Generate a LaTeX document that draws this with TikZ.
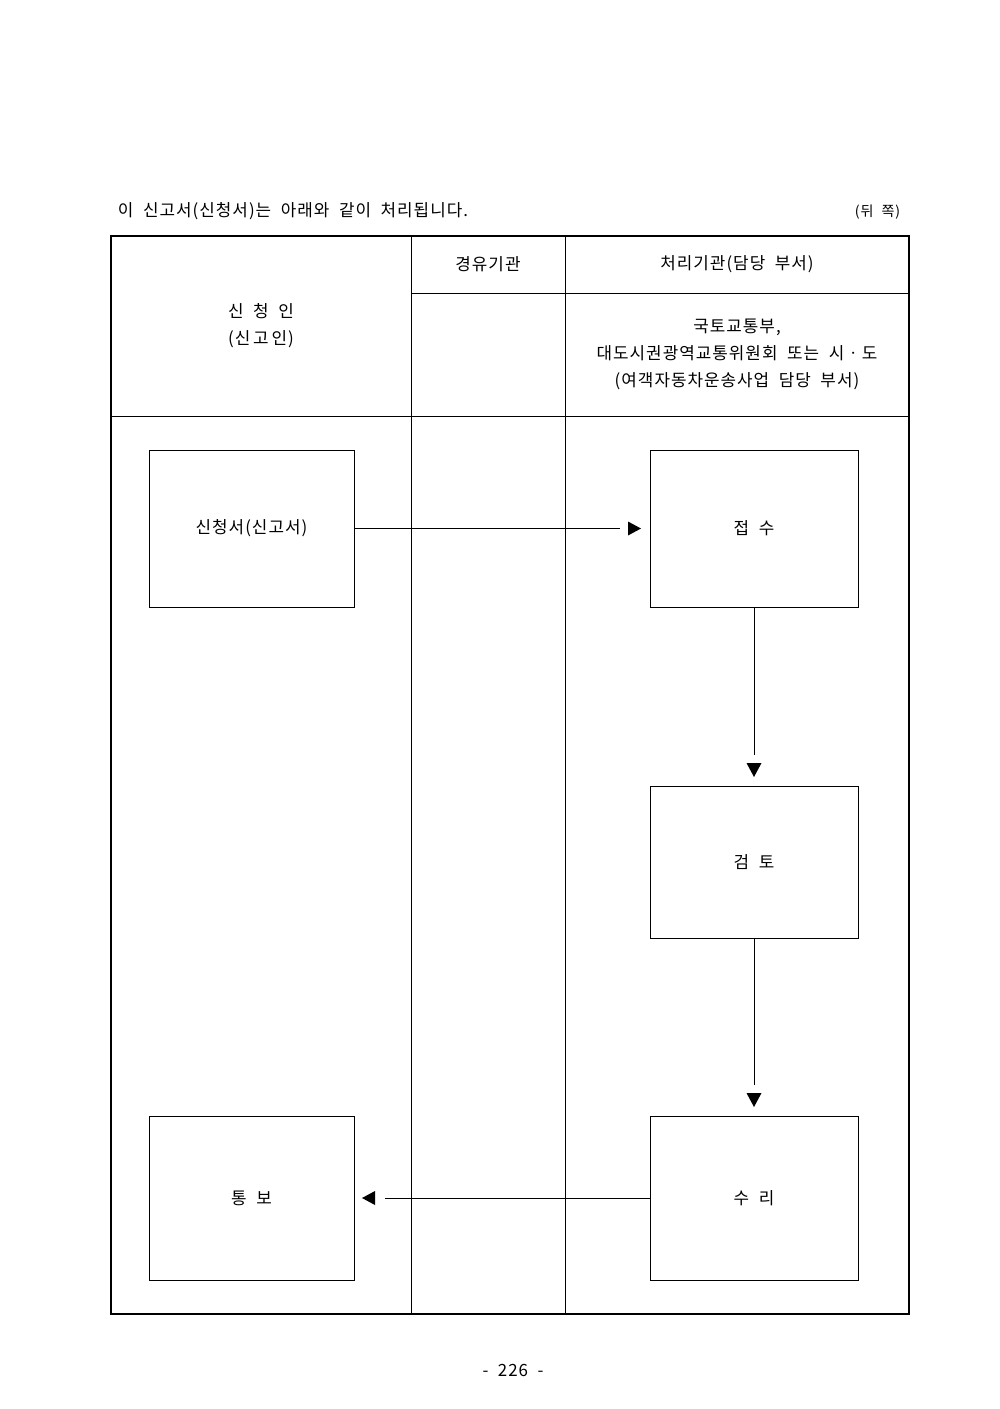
\documentclass[tikz,border=0pt]{standalone}
\usepackage{fontspec}
\setmainfont{Noto Sans CJK KR}[LetterSpace=6, WordSpace=2]
\begin{document}
\begin{tikzpicture}[x=0.025cm, y=-0.025cm,
		kasten/.style={draw, inner sep=0pt, outer sep=0pt, font=\fontsize{12}{14}\selectfont},
		kopf/.style={align=center, font=\fontsize{12}{19.2}\selectfont}]
	
	\useasboundingbox (0,0) rectangle (1000,1409);
	
	% Titelzeile
	\node[anchor=west, font=\fontsize{12}{14}\selectfont] (titel) at (113,211) {이 신고서(신청서)는 아래와 같이 처리됩니다.};
	\node[anchor=east, font=\fontsize{10}{12}\selectfont] (seite) at (905,212) {(뒤 쪽)};
	
	% Tabelle
	\draw[line width=1.4pt] (111,236) rectangle (909,1314);
	\draw (411,236) -- (411,1314);
	\draw (565,236) -- (565,1314);
	\draw (411,293) -- (909,293);
	\draw (111,416) -- (909,416);
	
	% Spaltenkoepfe
	\node[kopf] (k1) at (261,325.5) {신 청 인\\(신\,고\,인)};
	\node[kopf] (k2) at (488,264) {경유기관};
	\node[kopf] (k3) at (737,264) {처리기관(담당 부서)};
	\node[kopf] (k4) at (737,354) {국토교통부,\\대도시권광역교통위원회 또는 시ㆍ도\\(여객자동차운송사업 담당 부서)};
	
	% Kaesten
	\node[kasten, minimum width=5.125cm, minimum height=3.925cm] (antrag) at (251.5,528.5) {신청서(신고서)};
	\node[kasten, minimum width=5.2cm, minimum height=3.925cm] (empfang) at (754,528.5) {접 수};
	\node[kasten, minimum width=5.2cm, minimum height=3.8cm] (pruefung) at (754,862) {검 토};
	\node[kasten, minimum width=5.2cm, minimum height=4.1cm] (annahme) at (754,1198) {수 리};
	\node[kasten, minimum width=5.125cm, minimum height=4.1cm] (bescheid) at (251.5,1198) {통 보};
	
	% Pfeil Antrag -> Empfang
	\coordinate (p1) at (620,528.5);
	\draw (antrag.east) -- (p1);
	\fill (628,521.5) -- (641,528.5) -- (628,535.5) -- cycle;
	
	% Pfeil Empfang -> Pruefung
	\coordinate (p2) at (754,755);
	\draw (empfang.south) -- (p2);
	\fill (746.5,763) -- (761.5,763) -- (754,777) -- cycle;
	
	% Pfeil Pruefung -> Annahme
	\coordinate (p3) at (754,1085);
	\draw (pruefung.south) -- (p3);
	\fill (746.5,1093) -- (761.5,1093) -- (754,1107) -- cycle;
	
	% Pfeil Annahme -> Bescheid
	\coordinate (p4) at (385,1198);
	\draw (annahme.west) -- (p4);
	\fill (375,1191) -- (362,1198) -- (375,1205) -- cycle;
	
	% Seitenzahl
	\node[font=\fontsize{12}{14}\selectfont] (nr) at (513,1370) {- 226 -};
	
\end{tikzpicture}
\end{document}
